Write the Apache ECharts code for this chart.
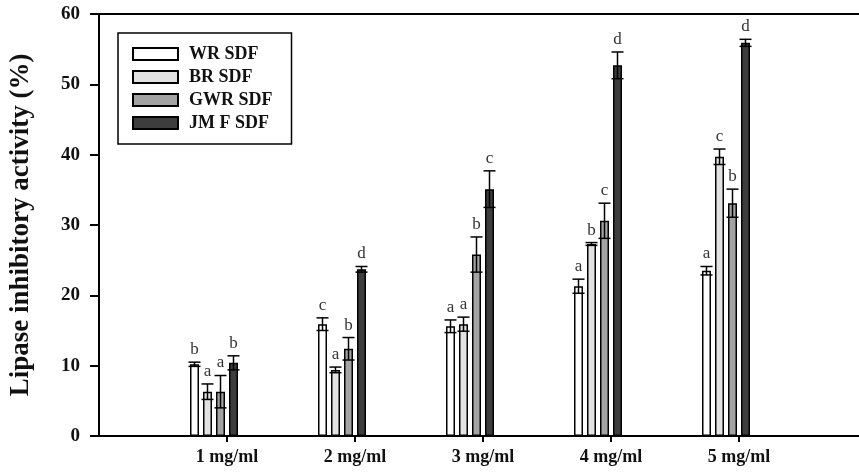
<!DOCTYPE html>
<html>
<head>
<meta charset="utf-8">
<script src="https://cdn.jsdelivr.net/npm/echarts@6/dist/echarts.min.js"></script>
<style>html,body{margin:0;padding:0;background:#fff;}#chart{width:859px;height:472px;}</style>
</head>
<body>
<div id="chart"></div>
<script>
var categories = ['1 mg/ml', '2 mg/ml', '3 mg/ml', '4 mg/ml', '5 mg/ml'];
var legendLabels = ['WR SDF', 'BR SDF', 'GWR SDF', 'JM F SDF'];
var wrValues = [10.2, 15.9, 15.6, 21.3, 23.5];
var brValues = [6.3, 9.4, 15.9, 27.3, 39.7];
var gwrValues = [6.3, 12.4, 25.8, 30.6, 33.1];
var jmfValues = [10.4, 23.7, 35.1, 52.7, 55.9];
var wrErrors = [0.3, 0.9, 0.9, 1.0, 0.6];
var brErrors = [1.1, 0.4, 1.0, 0.2, 1.1];
var gwrErrors = [2.3, 1.6, 2.5, 2.5, 2.0];
var jmfErrors = [1.0, 0.4, 2.6, 1.9, 0.5];
var wrLetters = ['b', 'c', 'a', 'a', 'a'];
var brLetters = ['a', 'a', 'a', 'b', 'c'];
var gwrLetters = ['a', 'b', 'b', 'c', 'b'];
var jmfLetters = ['b', 'd', 'c', 'd', 'd'];
var yTicks = [0, 10, 20, 30, 40, 50, 60];

var SERIF = '"Liberation Serif", "Times New Roman", "DejaVu Serif", serif';
var fills = ['#ffffff', '#e2e2e2', '#a3a3a3', '#3d3d3d'];
var BAR_W = 9, GAP = 4, SLOTS = 6;

var values = [wrValues, brValues, gwrValues, jmfValues];
var errors = [wrErrors, brErrors, gwrErrors, jmfErrors];
var letters = [wrLetters, brLetters, gwrLetters, jmfLetters];

// padded category axis: positions 0..6, groups at 1..5
var axisCats = [''].concat(categories).concat(['']);
function pad(arr) { return [null].concat(arr).concat([null]); }

var series = [];
values.forEach(function (vals, i) {
  series.push({
    name: legendLabels[i],
    type: 'bar',
    data: pad(vals),
    barWidth: BAR_W,
    barGap: (GAP / BAR_W * 100) + '%',
    itemStyle: { color: fills[i], borderColor: '#000', borderWidth: 1.5 },
    z: 2
  });
});
// two empty slots (SigmaPlot-style group offset)
for (var k = 0; k < 2; k++) {
  series.push({ name: 'blank' + k, type: 'bar', data: pad([null, null, null, null, null]), barWidth: BAR_W, barGap: (GAP / BAR_W * 100) + '%' });
}
values.forEach(function (vals, i) {
  var data = vals.map(function (v, j) { return [j + 1, v, errors[i][j], letters[i][j]]; });
  var offset = (i - (SLOTS - 1) / 2) * (BAR_W + GAP);
  series.push({
    type: 'custom',
    name: 'err' + i,
    z: 5,
    encode: { x: 0, y: 1 },
    data: data,
    renderItem: function (params, api) {
      var xi = api.value(0), v = api.value(1), e = api.value(2);
      var top = api.coord([xi, v + e]);
      var bot = api.coord([xi, v - e]);
      var x = top[0] + offset;
      var cap = 6;
      var st = { stroke: '#000', lineWidth: 1.5 };
      return {
        type: 'group',
        children: [
          { type: 'line', shape: { x1: x, y1: top[1], x2: x, y2: bot[1] }, style: st },
          { type: 'line', shape: { x1: x - cap, y1: top[1], x2: x + cap, y2: top[1] }, style: st },
          { type: 'line', shape: { x1: x - cap, y1: bot[1], x2: x + cap, y2: bot[1] }, style: st },
          { type: 'text', x: x, y: top[1] - 4, style: { text: letters[i][xi - 1], font: 'normal 17px ' + SERIF, fill: '#333', align: 'center', verticalAlign: 'bottom' } }
        ]
      };
    }
  });
});

var chart = echarts.init(document.getElementById('chart'), null, { renderer: 'canvas' });
chart.setOption({
  animation: false,
  backgroundColor: '#fff',
  grid: { left: 99, top: 14, bottom: 36, right: -8, outerBoundsMode: 'none', containLabel: false, show: true, borderColor: '#000', borderWidth: 2 },
  legend: {
    data: legendLabels,
    orient: 'vertical',
    left: 118,
    top: 33,
    padding: [12, 19, 12, 14],
    borderColor: '#000',
    borderWidth: 1.5,
    icon: 'rect',
    itemWidth: 45,
    itemHeight: 12,
    itemGap: 5,
    textStyle: { fontFamily: SERIF, fontWeight: 'bold', fontSize: 18, color: '#111', lineHeight: 16, padding: [0, 0, 0, 6] }
  },
  xAxis: {
    type: 'category',
    data: axisCats,
    boundaryGap: false,
    axisLine: { lineStyle: { color: '#000', width: 2 } },
    axisTick: { length: 6, lineStyle: { color: '#000', width: 2 }, interval: function (idx) { return idx > 0 && idx < axisCats.length - 1; } },
    axisLabel: { interval: 0, margin: 12, fontFamily: SERIF, fontWeight: 'bold', fontSize: 18, color: '#111' },
    splitLine: { show: false }
  },
  yAxis: {
    type: 'value',
    min: yTicks[0],
    max: yTicks[yTicks.length - 1],
    interval: yTicks[1] - yTicks[0],
    name: 'Lipase inhibitory activity (%)',
    nameLocation: 'middle',
    nameGap: 64,
    nameTextStyle: { fontFamily: SERIF, fontWeight: 'bold', fontSize: 27, color: '#111' },
    axisLine: { show: true, lineStyle: { color: '#000', width: 2 } },
    axisTick: { show: true, length: 9, lineStyle: { color: '#000', width: 2 } },
    axisLabel: { margin: 19, fontFamily: SERIF, fontWeight: 'bold', fontSize: 19, color: '#111' },
    splitLine: { show: false }
  },
  series: series
});
</script>
</body>
</html>
